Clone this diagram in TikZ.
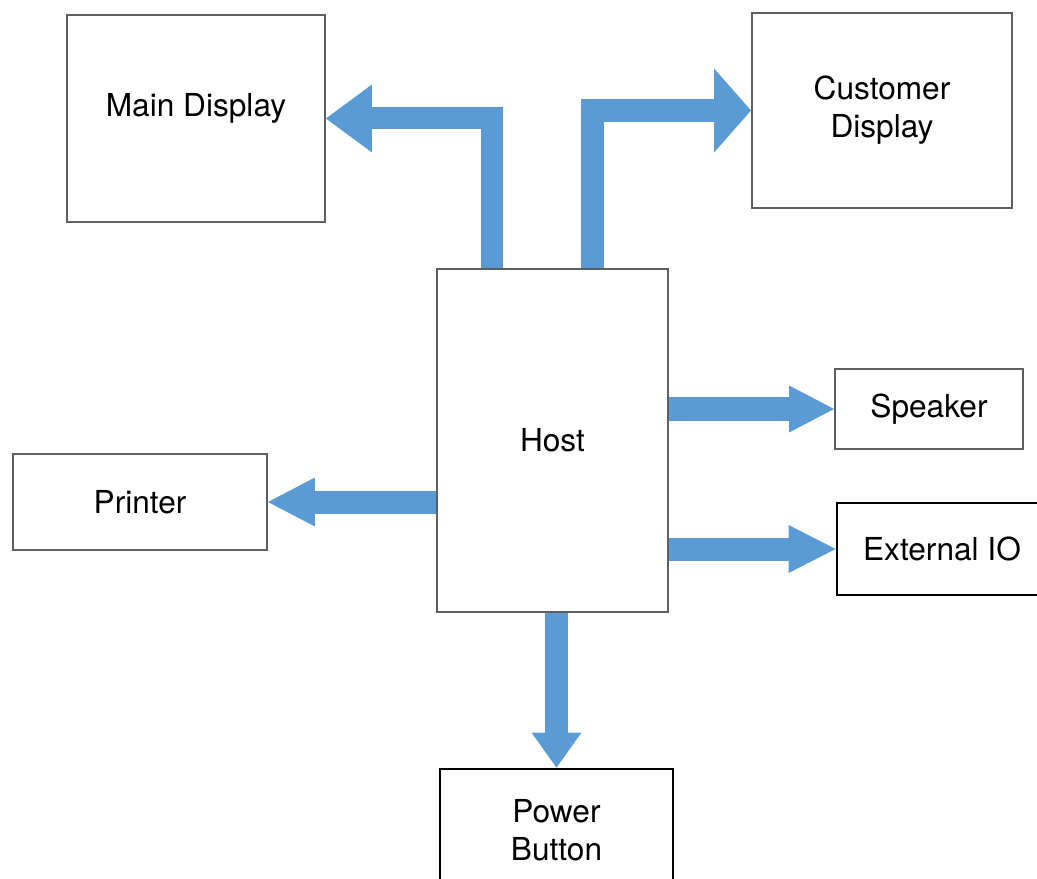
\documentclass[tikz,border=0pt]{standalone}
\usepackage{fontspec}
\setmainfont{TeX Gyre Heros}
\usetikzlibrary{calc}
\usetikzlibrary{arrows.meta}
\definecolor{busblue}{RGB}{91,155,213}
\definecolor{boxgray}{RGB}{95,95,95}

\begin{document}
\begin{tikzpicture}[
	font = \fontsize{18}{21.6}\selectfont,
	box/.style = {draw=boxgray, line width=1.1pt, align=center, inner sep=0pt},
	dark box/.style = {box, draw=black, line width=1.6pt},
	bus/.style = {draw=busblue, line width=0.46cm},
	bus tip/.style 2 args = {-{Triangle[width=#1, length=#2, line width=0pt]}}
]
	\path[use as bounding box, clip] (0,0) rectangle (20.74,-17.58); % page

	\node[box, minimum width=4.62cm, minimum height=6.86cm] (host) at (11.05,-8.81) {Host};
	\node[box, minimum width=5.16cm, minimum height=4.14cm, text depth=15pt] (main) at (3.92,-2.37) {Main Display};
	\node[box, minimum width=5.2cm, minimum height=3.9cm] (cust) at (17.64,-2.21) {Customer\\Display};
	\node[box, minimum width=3.76cm, minimum height=1.6cm] (speaker) at (18.58,-8.18) {Speaker};
	\node[dark box, minimum width=4.2cm, minimum height=1.84cm] (ext) at (18.84,-10.98) {External IO};
	\node[box, minimum width=5.08cm, minimum height=1.92cm] (printer) at (2.8,-10.04) {Printer};
	\node[dark box, minimum width=4.66cm, minimum height=2.44cm] (power) at (11.13,-16.6) {Power\\Button};

	\draw[bus, line width=0.44cm, bus tip={1.36cm}{0.92cm}] ($(host.north)+(-1.21,0)$) |- (main.east); % to main display
	\draw[bus, bus tip={1.68cm}{0.74cm}] ($(host.north)+(0.8,0)$) |- (cust.west); % to customer display
	\draw[bus, bus tip={0.94cm}{0.9cm}] (host.east |- speaker.west) -- (speaker.west);
	\draw[bus, bus tip={0.96cm}{0.94cm}] (host.east |- ext.west) -- (ext.west);
	\draw[bus, bus tip={0.98cm}{0.94cm}] (host.west |- printer.east) -- (printer.east);
	\draw[bus, bus tip={1cm}{0.7cm}] (host.south -| power.north) -- (power.north);
\end{tikzpicture}
\end{document}
